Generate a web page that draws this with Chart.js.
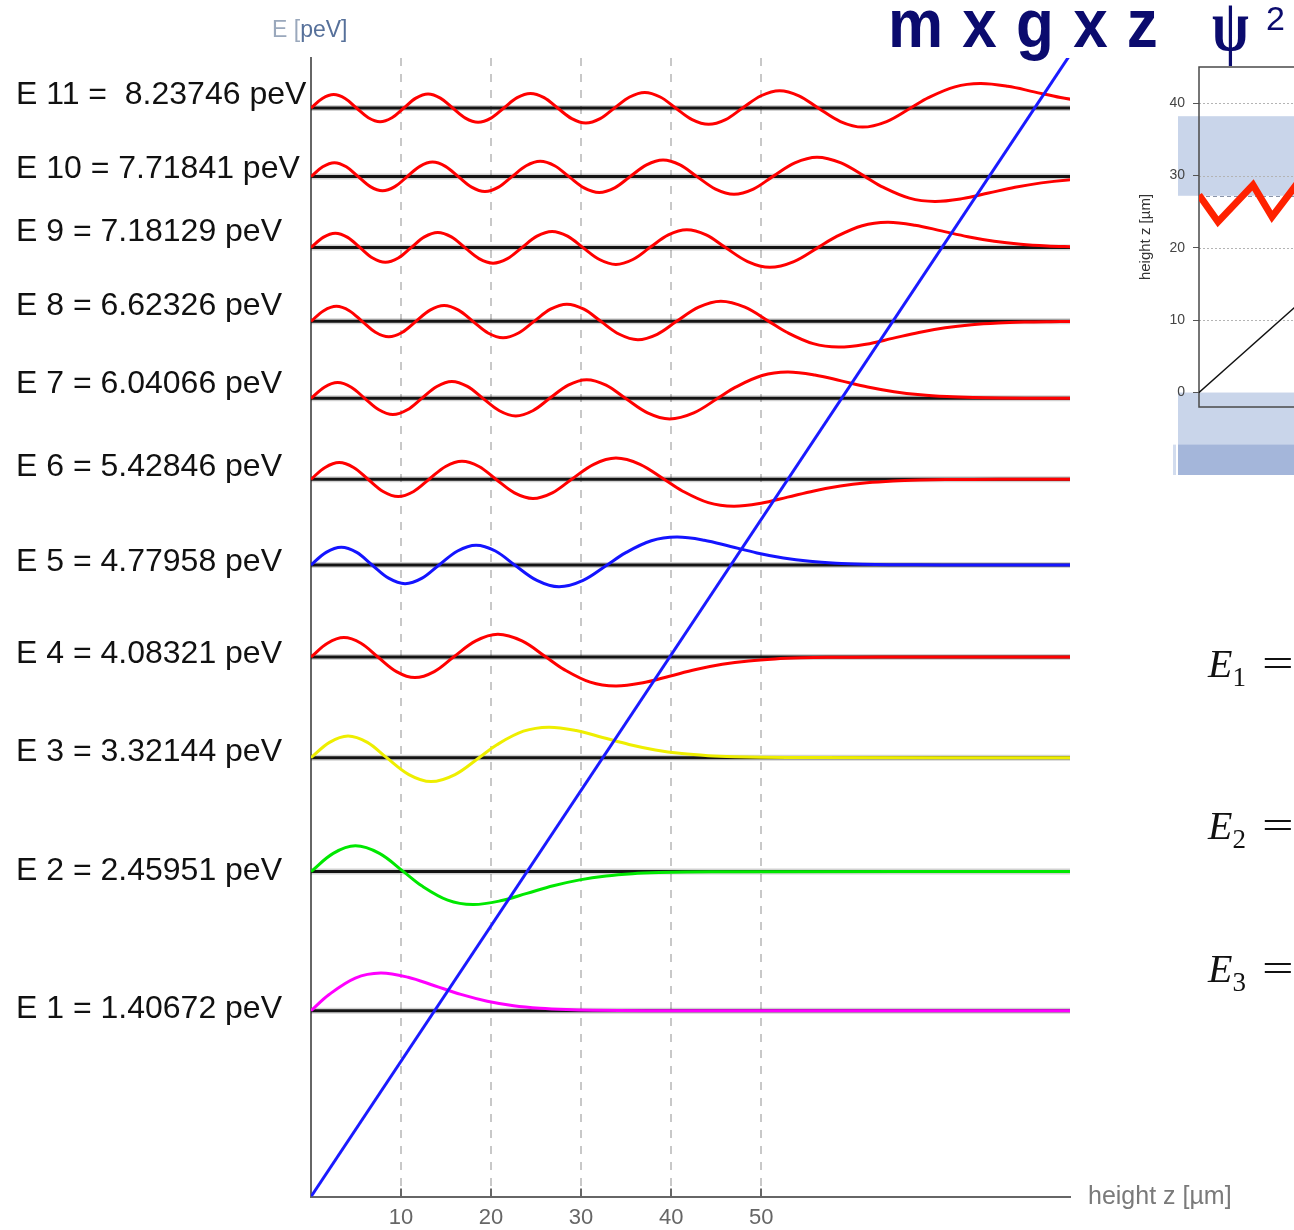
<!DOCTYPE html>
<html>
<head>
<meta charset="utf-8">
<title>Neutron quantum states in the gravity field</title>
<script src="https://cdn.jsdelivr.net/npm/chart.js@4.4.1/dist/chart.umd.min.js"></script>
<style>
  html, body { margin: 0; padding: 0; background: #fff; }
  body { position: relative; width: 1294px; height: 1230px; overflow: hidden; font-family: "Liberation Sans", Arial, sans-serif; }
  canvas { position: absolute; }
  #mainChart { left: 0; top: 0; }
  #insetChart { left: 1130px; top: 60px; }
  .txt { position: absolute; white-space: nowrap; }
  .navy { color: #0b0b6e; }
  .eq { font-family: "Liberation Serif", "DejaVu Serif", serif; font-size: 40px; line-height: 40px; color: #111; }
  .eq i { font-style: italic; }
  .eq .sub { font-size: 27px; position: relative; top: 9px; }
  .eq .eqs { display: inline-block; margin-left: 16px; transform: scaleX(1.4); transform-origin: 0 0; }
</style>
</head>
<body>
<canvas id="mainChart" width="1294" height="1230"></canvas>
<canvas id="insetChart" width="320" height="430"></canvas>

<div class="txt" style="left:272px; top:16px; font-size:23px; line-height:26px; color:#56709a;"><span style="color:#9aa8bc;">E [</span>peV]</div>
<div class="txt navy" style="left:888px; top:-5px; font-size:62px; line-height:62px; font-weight:bold; word-spacing:2px; transform:scaleY(1.12); transform-origin:0 52px;">m x g x z</div>
<div class="txt navy" style="left:1212px; top:-12px; font-family:'Liberation Serif', serif; font-size:74px; line-height:74px; font-weight:bold; transform:scaleX(0.72); transform-origin:0 0;">ψ</div>
<div class="txt navy" style="left:1266px; top:1px; font-size:34px; line-height:34px;">2</div>

<div class="txt eq" style="left:1208px; top:644px;"><i>E</i><span class="sub">1</span><span class="eqs">=</span></div>
<div class="txt eq" style="left:1208px; top:806px;"><i>E</i><span class="sub">2</span><span class="eqs">=</span></div>
<div class="txt eq" style="left:1208px; top:949px;"><i>E</i><span class="sub">3</span><span class="eqs">=</span></div>

<div class="txt" style="left:1088px; top:1180px; font-size:25px; line-height:30px; color:#7a7a7a;">height z [µm]</div>

<script>
// Energy levels (peV) and their labels
const energies = [1.40672, 2.45951, 3.32144, 4.08321, 4.77958, 5.42846, 6.04066, 6.62326, 7.18129, 7.71841, 8.23746];
const levelNames = [
    'E 1 = 1.40672 peV', 'E 2 = 2.45951 peV', 'E 3 = 3.32144 peV', 'E 4 = 4.08321 peV',
    'E 5 = 4.77958 peV', 'E 6 = 5.42846 peV', 'E 7 = 6.04066 peV', 'E 8 = 6.62326 peV',
    'E 9 = 7.18129 peV', 'E 10 = 7.71841 peV', 'E 11 =  8.23746 peV'
];

// x axis: height z in um
const zMax = 84.3;
const xTicks = [10, 20, 30, 40, 50];

// potential m*g*z (straight line)
const mgzZ = [0, 84.3];
const mgzE = [0, 8.64];

// wave functions: [z (um), offset from the level (peV)]
const wave1 = [[0, 0], [1.98, 0.1211], [4.92, 0.2472], [7.74, 0.2852], [10.78, 0.2533], [13.72, 0.1890], [16.65, 0.1234], [19.58, 0.0720],
    [22.51, 0.0382], [25.45, 0.0186], [28.38, 0.0084], [31.31, 0.0035], [37.18, 0.0005], [84.3, 0]];
const wave2 = [[0, 0], [2.47, 0.1377], [4.93, 0.1948], [7.60, 0.1377], [10.27, 0], [12.25, -0.1057], [15.18, -0.2158], [18.00, -0.2490],
    [21.05, -0.2212], [23.98, -0.1650], [26.91, -0.1077], [29.85, -0.0629], [32.78, -0.0334], [35.71, -0.0162], [38.65, -0.0073],
    [41.58, -0.0031], [47.44, -0.0004], [84.3, 0]];
const wave3 = [[0, 0], [2.06, 0.1160], [4.11, 0.1641], [6.26, 0.1160], [8.40, 0], [10.87, -0.1278], [13.33, -0.1808], [16.00, -0.1278],
    [18.67, 0], [20.65, 0.0981], [23.59, 0.2003], [26.41, 0.2311], [29.45, 0.2053], [32.38, 0.1532], [35.32, 0.1000], [38.25, 0.0584],
    [41.18, 0.0310], [44.12, 0.0151], [47.05, 0.0068], [49.98, 0.0028], [55.85, 0.0004], [84.3, 0]];
const wave4 = [[0, 0], [1.83, 0.1037], [3.66, 0.1467], [5.55, 0.1037], [7.43, 0], [9.49, -0.1102], [11.54, -0.1559], [13.69, -0.1102],
    [15.83, 0], [18.30, 0.1215], [20.76, 0.1718], [23.43, 0.1215], [26.10, 0], [28.08, -0.0932], [31.01, -0.1903], [33.84, -0.2196],
    [36.88, -0.1950], [39.81, -0.1455], [42.74, -0.0950], [45.68, -0.0555], [48.61, -0.0294], [51.54, -0.0143], [54.48, -0.0064],
    [57.41, -0.0027], [63.27, -0.0004], [84.3, 0]];
const wave5 = [[0, 0], [1.68, 0.0954], [3.36, 0.1349], [5.08, 0.0954], [6.79, 0], [8.62, -0.0998], [10.45, -0.1411], [12.34, -0.0998],
    [14.22, 0], [16.28, 0.1061], [18.33, 0.1500], [20.48, 0.1061], [22.62, 0], [25.09, -0.1168], [27.55, -0.1652], [30.22, -0.1168],
    [32.89, 0], [34.87, 0.0896], [37.80, 0.1830], [40.62, 0.2112], [43.67, 0.1875], [46.60, 0.1399], [49.53, 0.0913], [52.47, 0.0533],
    [55.40, 0.0283], [58.33, 0.0138], [61.27, 0.0062], [64.20, 0.0026], [70.06, 0.0004], [84.3, 0]];
const wave6 = [[0, 0], [1.57, 0.0892], [3.13, 0.1262], [4.73, 0.0892], [6.33, 0], [8.01, -0.0925], [9.68, -0.1308], [11.40, -0.0925],
    [13.12, 0], [14.95, 0.0967], [16.77, 0.1367], [18.66, 0.0967], [20.54, 0], [22.60, -0.1027], [24.65, -0.1453], [26.80, -0.1027],
    [28.95, 0], [31.41, 0.1132], [33.87, 0.1601], [36.54, 0.1132], [39.21, 0], [41.20, -0.0869], [44.13, -0.1773], [46.95, -0.2046],
    [49.99, -0.1817], [52.93, -0.1356], [55.86, -0.0885], [58.79, -0.0517], [61.73, -0.0274], [64.66, -0.0133], [67.59, -0.0060],
    [70.52, -0.0025], [76.39, -0.0004], [84.3, 0]];
const wave7 = [[0, 0], [1.48, 0.0844], [2.96, 0.1194], [4.47, 0.0844], [5.97, 0], [7.54, -0.0869], [9.10, -0.1229], [10.70, -0.0869],
    [12.30, 0], [13.98, 0.0900], [15.65, 0.1273], [17.37, 0.0900], [19.09, 0], [20.92, -0.0941], [22.74, -0.1331], [24.63, -0.0941],
    [26.51, 0], [28.57, 0.1000], [30.62, 0.1415], [32.77, 0.1000], [34.92, 0], [37.38, -0.1102], [39.84, -0.1559], [42.51, -0.1102],
    [45.18, 0], [47.16, 0.0846], [50.10, 0.1727], [52.92, 0.1993], [55.96, 0.1770], [58.90, 0.1321], [61.83, 0.0862], [64.76, 0.0503],
    [67.69, 0.0267], [70.63, 0.0130], [73.56, 0.0058], [76.49, 0.0025], [82.36, 0.0004], [84.3, 0]];
const wave8 = [[0, 0], [1.41, 0.0805], [2.82, 0.1139], [4.25, 0.0805], [5.68, 0], [7.16, -0.0826], [8.64, -0.1168], [10.15, -0.0826],
    [11.65, 0], [13.22, 0.0850], [14.78, 0.1202], [16.38, 0.0850], [17.98, 0], [19.66, -0.0880], [21.33, -0.1245], [23.05, -0.0880],
    [24.77, 0], [26.60, 0.0921], [28.42, 0.1302], [30.31, 0.0921], [32.19, 0], [34.25, -0.0979], [36.30, -0.1384], [38.45, -0.0979],
    [40.60, 0], [43.06, 0.1077], [45.52, 0.1524], [48.19, 0.1077], [50.86, 0], [52.84, -0.0827], [55.78, -0.1688], [58.60, -0.1948],
    [61.64, -0.1730], [64.58, -0.1291], [67.51, -0.0843], [70.44, -0.0492], [73.38, -0.0261], [76.31, -0.0127], [79.24, -0.0057],
    [82.17, -0.0024], [84.3, -0.0012]];
const wave9 = [[0, 0], [1.35, 0.0773], [2.70, 0.1093], [4.07, 0.0773], [5.44, 0], [6.85, -0.0790], [8.26, -0.1117], [9.69, -0.0790],
    [11.12, 0], [12.60, 0.0809], [14.08, 0.1144], [15.59, 0.0809], [17.09, 0], [18.66, -0.0833], [20.22, -0.1178], [21.82, -0.0833],
    [23.42, 0], [25.10, 0.0863], [26.77, 0.1220], [28.49, 0.0863], [30.21, 0], [32.04, -0.0902], [33.86, -0.1276], [35.75, -0.0902],
    [37.63, 0], [39.69, 0.0959], [41.74, 0.1356], [43.89, 0.0959], [46.04, 0], [48.50, -0.1056], [50.96, -0.1494], [53.63, -0.1056],
    [56.30, 0], [58.29, 0.0811], [61.22, 0.1655], [64.04, 0.1910], [67.08, 0.1696], [70.02, 0.1266], [72.95, 0.0826], [75.88, 0.0482],
    [78.82, 0.0256], [81.75, 0.0124], [84.68, 0.0056]];
const wave10 = [[0, 0], [1.30, 0.0745], [2.60, 0.1054], [3.92, 0.0745], [5.24, 0], [6.59, -0.0759], [7.94, -0.1074], [9.31, -0.0759],
    [10.68, 0], [12.09, 0.0776], [13.50, 0.1097], [14.93, 0.0776], [16.36, 0], [17.84, -0.0795], [19.32, -0.1125], [20.83, -0.0795],
    [22.33, 0], [23.90, 0.0819], [25.46, 0.1158], [27.06, 0.0819], [28.65, 0], [30.33, -0.0848], [32.01, -0.1199], [33.73, -0.0848],
    [35.44, 0], [37.27, 0.0887], [39.10, 0.1254], [40.99, 0.0887], [42.87, 0], [44.93, -0.0942], [46.98, -0.1333], [49.13, -0.0942],
    [51.27, 0], [53.74, 0.1038], [56.20, 0.1468], [58.87, 0.1038], [61.54, 0], [63.52, -0.0797], [66.46, -0.1626], [69.28, -0.1877],
    [72.32, -0.1666], [75.25, -0.1244], [78.19, -0.0812], [81.12, -0.0474], [84.05, -0.0251], [86.98, -0.0122]];
const wave11 = [[0, 0], [1.26, 0.0721], [2.52, 0.1020], [3.79, 0.0721], [5.06, 0], [6.37, -0.0733], [7.67, -0.1037], [8.99, -0.0733],
    [10.30, 0], [11.65, 0.0747], [13.00, 0.1057], [14.37, 0.0747], [15.74, 0], [17.15, -0.0764], [18.56, -0.1080], [19.99, -0.0764],
    [21.42, 0], [22.90, 0.0783], [24.38, 0.1107], [25.89, 0.0783], [27.39, 0], [28.96, -0.0805], [30.52, -0.1139], [32.12, -0.0805],
    [33.71, 0], [35.39, 0.0834], [37.07, 0.1180], [38.79, 0.0834], [40.50, 0], [42.33, -0.0873], [44.16, -0.1234], [46.05, -0.0873],
    [47.93, 0], [49.99, 0.0928], [52.04, 0.1312], [54.19, 0.0928], [56.33, 0], [58.80, -0.1022], [61.26, -0.1445], [63.93, -0.1022],
    [66.60, 0], [68.58, 0.0784], [71.52, 0.1601], [74.34, 0.1847], [77.38, 0.1640], [80.31, 0.1224], [83.25, 0.0799], [86.18, 0.0466]];
const waves = [wave1, wave2, wave3, wave4, wave5, wave6, wave7, wave8, wave9, wave10, wave11];

// inset (psi^2 panel)
const insetTicks = [0, 10, 20, 30, 40];
const zigzagX = [0, 1.9, 5.4, 7.3, 9.5, 11.4];
const zigzagZ = [27.3, 23.6, 28.7, 24.3, 28.3, 24.5];
const slopeX = [0, 10];
const slopeZ = [0, 12.3];
const upperBand = [27.2, 38.2];
const lowerBand = [-11.4, 0];
const lowerBandDark = [-11.4, -7.2];

// styles
const waveColors = ['#ff00ff', '#00e800', '#eeee00', '#ff0000', '#1414ff', '#ff0000',
    '#ff0000', '#ff0000', '#ff0000', '#ff0000', '#ff0000'];
const labelNudge = [-2, 0, -6, -3, -3, -12, -14, -15, -15, -7, -13];
const FONT = '"Liberation Sans", Arial, sans-serif';

// dashed grid + inward ticks, level labels
const mainDecor = {
    id: 'mainDecor',
    beforeDatasetsDraw(chart) {
        const {ctx, chartArea: a, scales: {x}} = chart;
        ctx.save();
        ctx.lineWidth = 2;
        ctx.strokeStyle = '#c8c8c8';
        ctx.setLineDash([8, 8]);
        xTicks.forEach(v => {
            const px = Math.round(x.getPixelForValue(v));
            ctx.beginPath();
            ctx.moveTo(px, a.top);
            ctx.lineTo(px, a.bottom - 8);
            ctx.stroke();
        });
        ctx.setLineDash([]);
        ctx.strokeStyle = '#666';
        xTicks.forEach(v => {
            const px = Math.round(x.getPixelForValue(v));
            ctx.beginPath();
            ctx.moveTo(px, a.bottom);
            ctx.lineTo(px, a.bottom - 8);
            ctx.stroke();
        });
        ctx.restore();
    },
    afterDraw(chart) {
        const {ctx, scales: {y}} = chart;
        ctx.save();
        ctx.font = '32px ' + FONT;
        ctx.fillStyle = '#111';
        ctx.textBaseline = 'middle';
        levelNames.forEach((name, i) => {
            ctx.fillText(name, 16, y.getPixelForValue(energies[i]) + labelNudge[i]);
        });
        ctx.restore();
    }
};

const mainSets = [];
energies.forEach((e, i) => {
    mainSets.push({
        data: waves[i].map(p => ({x: p[0], y: e + p[1]})),
        borderColor: waveColors[i],
        borderWidth: 3,
        tension: 0.35,
        order: 1
    });
    mainSets.push({
        data: [{x: 0, y: e}, {x: zMax, y: e}],
        borderColor: '#141414',
        borderWidth: 3,
        order: 2
    });
    mainSets.push({
        data: [{x: 0, y: e}, {x: zMax, y: e}],
        borderColor: 'rgba(0,0,0,0.18)',
        borderWidth: 6,
        order: 3
    });
});
mainSets.push({
    data: mgzZ.map((z, i) => ({x: z, y: mgzE[i]})),
    borderColor: '#1a1aff',
    borderWidth: 3,
    order: 0
});

new Chart(document.getElementById('mainChart').getContext('2d'), {
    type: 'line',
    data: {datasets: mainSets},
    options: {
        responsive: false,
        animation: false,
        layout: {padding: {left: 311, right: 224, top: 58, bottom: 0}},
        elements: {point: {radius: 0}, line: {fill: false}},
        plugins: {legend: {display: false}, tooltip: {enabled: false}},
        scales: {
            x: {
                type: 'linear',
                min: 0,
                max: zMax,
                afterBuildTicks: s => { s.ticks = xTicks.map(v => ({value: v})); },
                afterFit: s => { s.height = 33.4; },
                grid: {display: false, drawTicks: false},
                border: {display: true, color: '#666', width: 2},
                ticks: {color: '#666', padding: 8, font: {family: FONT, size: 22}}
            },
            y: {
                min: 0,
                max: 8.616,
                afterFit: s => { s.width = 0; },
                grid: {display: false, drawTicks: false},
                border: {display: true, color: '#666', width: 2},
                ticks: {display: false}
            }
        }
    },
    plugins: [mainDecor]
});

// inset panel
const insetDecor = {
    id: 'insetDecor',
    beforeDraw(chart) {
        const {ctx, chartArea: a, scales: {y}} = chart;
        const x0 = a.left - 21;
        const w = chart.width - x0;
        ctx.save();
        ctx.fillStyle = '#c9d5ea';
        let t = y.getPixelForValue(upperBand[1]), b = y.getPixelForValue(upperBand[0]);
        ctx.fillRect(x0, t, w, b - t);
        t = y.getPixelForValue(lowerBand[1]); b = y.getPixelForValue(lowerBand[0]);
        ctx.fillRect(x0, t, w, b - t);
        ctx.fillStyle = '#a4b6da';
        t = y.getPixelForValue(lowerBandDark[1]); b = y.getPixelForValue(lowerBandDark[0]);
        ctx.fillRect(x0, t, w, b - t);
        ctx.fillStyle = '#d2dcee';
        ctx.fillRect(x0 - 5, t, 3, b - t);
        ctx.restore();
    },
    beforeDatasetsDraw(chart) {
        const {ctx, chartArea: a, scales: {y}} = chart;
        ctx.save();
        ctx.lineWidth = 1;
        ctx.strokeStyle = '#b4b4b4';
        ctx.setLineDash([2, 2]);
        insetTicks.slice(1).forEach(v => {
            const py = Math.round(y.getPixelForValue(v)) + 0.5;
            ctx.beginPath();
            ctx.moveTo(a.left, py);
            ctx.lineTo(a.right, py);
            ctx.stroke();
        });
        ctx.strokeStyle = '#8a94a8';
        ctx.setLineDash([4, 3]);
        const pb = Math.round(y.getPixelForValue(upperBand[0])) + 0.5;
        ctx.beginPath();
        ctx.moveTo(a.left, pb);
        ctx.lineTo(a.right, pb);
        ctx.stroke();
        ctx.setLineDash([]);
        ctx.lineWidth = 1.5;
        ctx.strokeStyle = '#4a4a4a';
        ctx.strokeRect(a.left, a.top, a.right - a.left + 10, a.bottom - a.top);
        ctx.restore();
    },
    afterDraw(chart) {
        const {ctx, chartArea: a} = chart;
        ctx.save();
        ctx.translate(16, (a.top + a.bottom) / 2);
        ctx.rotate(-Math.PI / 2);
        ctx.font = '15px ' + FONT;
        ctx.fillStyle = '#333';
        ctx.textAlign = 'center';
        ctx.textBaseline = 'middle';
        ctx.fillText('height z [µm]', 0, 0);
        ctx.restore();
    }
};

new Chart(document.getElementById('insetChart').getContext('2d'), {
    type: 'line',
    data: {
        datasets: [
            {
                data: zigzagX.map((v, i) => ({x: v, y: zigzagZ[i]})),
                borderColor: '#ff2200',
                borderWidth: 7,
                borderJoinStyle: 'miter',
                borderCapStyle: 'butt'
            },
            {
                data: slopeX.map((v, i) => ({x: v, y: slopeZ[i]})),
                borderColor: '#111',
                borderWidth: 1.5
            }
        ]
    },
    options: {
        responsive: false,
        animation: false,
        layout: {padding: {left: 0, right: 0, top: 7, bottom: 83}},
        elements: {point: {radius: 0}},
        plugins: {legend: {display: false}, tooltip: {enabled: false}},
        scales: {
            x: {type: 'linear', display: false, min: 0, max: 25.1},
            y: {
                min: -2,
                max: 45,
                afterBuildTicks: s => { s.ticks = insetTicks.map(v => ({value: v})); },
                afterFit: s => { s.width = 69; s.paddingTop = 0; s.paddingBottom = 0; },
                grid: {display: true, drawOnChartArea: false, drawTicks: true, tickLength: 6, tickColor: '#555'},
                border: {display: false},
                ticks: {color: '#444', padding: 8, font: {family: FONT, size: 14}}
            }
        }
    },
    plugins: [insetDecor]
});
</script>
</body>
</html>
